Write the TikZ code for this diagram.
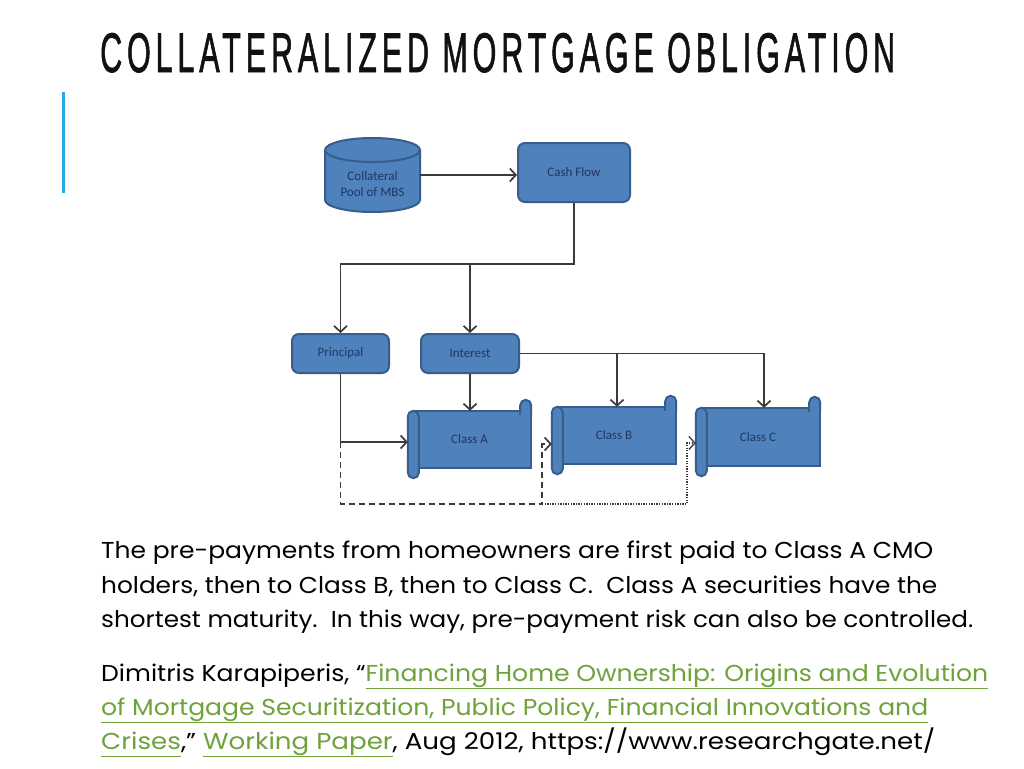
\documentclass[tikz,border=0pt]{standalone}
\usepackage{fontspec}
\usepackage{graphicx}
\setmainfont{Poppins}
\newfontfamily\titlefont[LetterSpace=16,FakeBold=1.6]{Liberation Sans}
\newfontfamily\boxfont{Carlito}
\usetikzlibrary{arrows.meta,calc}
\pgfdeclarelayer{bg}
\pgfsetlayers{bg,main}
\definecolor{boxfill}{HTML}{4F81BD}
\definecolor{boxedge}{HTML}{385D8A}
\definecolor{boxtext}{HTML}{1F3763}
\definecolor{wire}{HTML}{3A3A3A}
\definecolor{lnk}{HTML}{6FA23B}
\definecolor{accent}{HTML}{27A9E1}
\definecolor{titleink}{HTML}{111111}
\newcommand\lk[1]{\textcolor{lnk}{\underline{\vphantom{gp}#1}}}
\newcommand\drawscroll[1]{%
  \begin{pgfonlayer}{bg}
    \draw[scr] ($(#1.north west)+(5,0)$) rectangle (#1.south east);
    \path[scr] ($(#1.north east)+(-11,4)$) -- ($(#1.north east)+(-11,-5.5)$)
      arc[start angle=180,end angle=0,radius=5.5pt] -- ($(#1.north east)+(0,4)$);
    \draw[scr, rounded corners=5.5pt] (#1.north west) rectangle ($(#1.south west)+(11,10)$);
  \end{pgfonlayer}}
\begin{document}
\begin{tikzpicture}[x=1pt,y=-1pt,
  box/.style={draw=boxedge, fill=boxfill, line width=2pt, rounded corners=7pt,
    text=boxtext, font=\boxfont\fontsize{13}{15}\selectfont, align=center, inner sep=0pt},
  scrollnode/.style={draw=none, inner sep=0pt, text=boxtext,
    font=\boxfont\fontsize{13}{15}\selectfont},
  scr/.style={draw=boxedge, fill=boxfill, line width=2pt},
  wireline/.style={draw=wire, line width=1.7pt},
  arr/.style={wireline, -{Straight Barb[length=6pt,width=13pt]}},
  dasharr/.style={arr, dash pattern=on 6pt off 4pt},
  dotarr/.style={arr, line width=1.3pt, dash pattern=on 1.3pt off 1.3pt},
  txt/.style={anchor=base west, inner sep=0pt, font=\fontsize{23}{28}\selectfont, text=black}]
\begin{pgfonlayer}{bg}
  \fill[white] (0,0) rectangle (1024,768);
\end{pgfonlayer}
\useasboundingbox (0,0) rectangle (1024,768);

% title and accent bar
\node[anchor=base west, inner sep=0pt, text=titleink] (title) at (100,72)
  {\resizebox{795pt}{39pt}{\titlefont COLLATERALIZED MORTGAGE OBLIGATION}};
\draw[accent, line width=2.5pt] (63.5,92) -- (63.5,193);

% cylinder
\node[draw=none, minimum width=95pt, minimum height=74pt, inner sep=0pt] (pool) at (372.5,175) {};
\begin{pgfonlayer}{bg}
  \path[scr] (325,150) -- (325,200)
    arc[start angle=180,end angle=360,x radius=47.5pt,y radius=12pt] -- (420,150);
  \draw[scr] (372.5,150) ellipse[x radius=47.5pt,y radius=12pt];
\end{pgfonlayer}
\node[scrollnode, align=center, font=\boxfont\fontsize{13}{16}\selectfont] (pooltext) at (372.5,184) {Collateral\\Pool of MBS};

% boxes
\node[box, minimum width=112pt, minimum height=59pt] (cash) at (574,172.5) {Cash Flow};
\node[box, minimum width=97pt, minimum height=39pt] (principal) at (340.5,353.5) {Principal};
\node[box, minimum width=98pt, minimum height=39pt] (interest) at (470,353.5) {Interest};

% scrolls
\node[scrollnode, minimum width=123pt, minimum height=57pt] (classA) at (469.5,439.5) {Class A};
\node[scrollnode, minimum width=124pt, minimum height=57pt] (classB) at (614,435.5) {Class B};
\node[scrollnode, minimum width=124pt, minimum height=58pt] (classC) at (758,437) {Class C};
\drawscroll{classA}
\drawscroll{classB}
\drawscroll{classC}

% connectors
\draw[arr] (pool.east) -- (pool.east -| cash.west);
\coordinate (bus) at (cash.south |- 0,264);
\draw[arr] (cash.south) -- (bus) -| (principal.north);
\draw[arr] (bus -| interest.north) -- (interest.north);
\draw[arr] (interest.south) -- (interest.south |- classA.north);
\coordinate (inB) at ([xshift=3pt]classB.north);
\coordinate (inC) at ([xshift=6pt]classC.north);
\draw[arr] (interest.east) -| (inC);
\draw[arr] (interest.east -| inB) -- (inB);
\coordinate (inA) at ([yshift=-2.5pt]classA.west);
\coordinate (sideB) at ([yshift=-8.5pt]classB.west);
\coordinate (sideC) at ([yshift=-6pt]classC.west);
\draw[arr] (principal.south) |- (inA);
\coordinate (pa) at (principal.south |- inA);
\coordinate (d1) at (542,504);
\coordinate (d2) at (687,504);
\draw[dasharr] (pa) |- (d1) |- (sideB);
\draw[dotarr] (d1) -- (d2) |- (sideC);

% text
\node[txt] (t1) at (101,558) {\resizebox{832pt}{\height}{The pre-payments from homeowners are first paid to Class A CMO}};
\node[txt] (t2) at (101,593) {\resizebox{836pt}{\height}{holders, then to Class B, then to Class C.~~Class A securities have the}};
\node[txt] (t3) at (101,627) {\resizebox{872pt}{\height}{shortest maturity.~~In this way, pre-payment risk can also be controlled.}};
\node[txt] (t4) at (101,681) {\resizebox{887pt}{\height}{Dimitris Karapiperis, “\lk{Financing Home Ownership: Origins and Evolution}}};
\node[txt] (t5) at (101,715) {\resizebox{827pt}{\height}{\lk{of Mortgage Securitization, Public Policy, Financial Innovations and}}};
\node[txt] (t6) at (101,749) {\resizebox{834pt}{\height}{\lk{Crises},” \lk{Working Paper}, Aug 2012, https://www.researchgate.net/}};
\end{tikzpicture}
\end{document}
